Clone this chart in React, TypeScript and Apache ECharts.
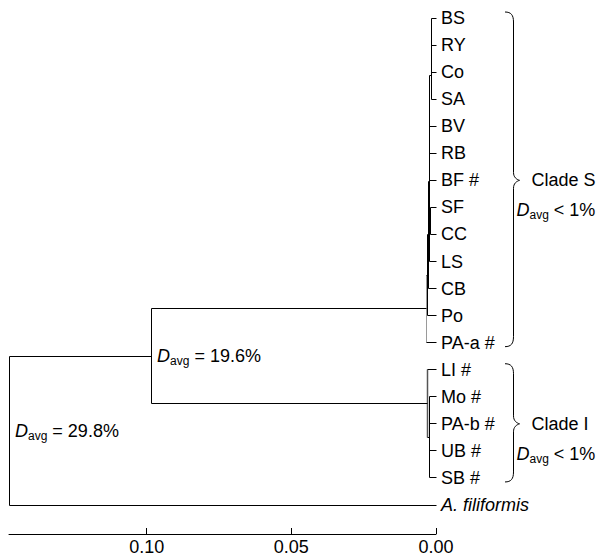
import React, { useEffect, useRef } from 'react';
import * as echarts from 'echarts';

// ---- data ----
const leafNames = ['BS', 'RY', 'Co', 'SA', 'BV', 'RB', 'BF #', 'SF', 'CC', 'LS', 'CB', 'Po', 'PA-a #', 'LI #', 'Mo #', 'PA-b #', 'UB #', 'SB #', 'A. filiformis'];
const nodeNames = ['a1', 'a2', 'a3', 'b1', 'sc', 'b', 'c', 'd', 'S', 'J', 'I', 'N', 'R'];
const nodeHeights = [0.0015, 0.0015, 0.0015, 0.0021, 0.0019, 0.0024, 0.0027, 0.0029, 0.0033, 0.0022, 0.0029, 0.0985, 0.1476];
const nodeChildren = [
  ['BS', 'RY'],
  ['a1', 'Co'],
  ['a2', 'SA'],
  ['a3', 'BV'],
  ['SF', 'CC'],
  ['b1', 'RB', 'BF #', 'sc', 'LS'],
  ['b', 'CB'],
  ['c', 'Po'],
  ['d', 'PA-a #'],
  ['Mo #', 'PA-b #', 'UB #', 'SB #'],
  ['LI #', 'J'],
  ['S', 'I'],
  ['N', 'A. filiformis'],
];
const italicLeaves = ['A. filiformis'];
const davgNodes = ['N', 'R'];
const davgTexts = [' = 19.6%', ' = 29.8%'];
const cladeNames = ['Clade S', 'Clade I'];
const cladeFirst = ['BS', 'LI #'];
const cladeLast = ['PA-a #', 'SB #'];
const cladeDavg = [' < 1%', ' < 1%'];
const axisTickValues = [0, 0.05, 0.1];
const axisMax = 0.1476;

// ---- styles ----
const FONT = "'Liberation Sans', Arial, Helvetica, sans-serif";
const GRAY_NODES = ['S'];
const DARKGRAY_NODES = ['I'];

type Pos = { x: number; y: number };

function layout() {
  const pos: Record<string, Pos> = {};
  leafNames.forEach((n, i) => (pos[n] = { x: 0, y: i }));
  const segs: number[][] = [];
  nodeNames.forEach((n, k) => {
    const h = nodeHeights[k];
    const ch = nodeChildren[k];
    const y1 = pos[ch[0]].y;
    const y2 = pos[ch[ch.length - 1]].y;
    pos[n] = { x: h, y: (y1 + y2) / 2 };
    const col = GRAY_NODES.includes(n) ? 1 : DARKGRAY_NODES.includes(n) ? 2 : 0;
    segs.push([h, y1, h, y2, col]);
    ch.forEach((c) => segs.push([h, pos[c].y, pos[c].x, pos[c].y, 0]));
  });
  return { pos, segs };
}

const snap = (v: number) => Math.round(v - 0.5) + 0.5;

const davgRich = {
  d: { fontFamily: FONT, fontSize: 18, fontStyle: 'italic', color: '#000', lineHeight: 22 },
  s: { fontFamily: FONT, fontSize: 12, color: '#000', lineHeight: 12, verticalAlign: 'bottom' },
  t: { fontFamily: FONT, fontSize: 18, color: '#000', lineHeight: 22 },
};

export default function App() {
  const ref = useRef<HTMLDivElement>(null);
  useEffect(() => {
    if (!ref.current) return;
    const chart = echarts.init(ref.current, undefined, { renderer: 'svg' });
    const { pos, segs } = layout();

    const leafData = leafNames.map((n, i) => ({
      value: [0, i],
      name: n,
      label: italicLeaves.includes(n) ? { fontStyle: 'italic' } : undefined,
    }));
    const davgData = davgNodes.map((n, k) => ({
      value: [pos[n].x, pos[n].y],
      name: davgTexts[k],
    }));
    const cladeData = cladeNames.map((c, k) => [pos[cladeFirst[k]].y, pos[cladeLast[k]].y, k]);

    chart.setOption({
      animation: false,
      grid: { left: 9, right: 164, top: 18, bottom: 54, containLabel: false },
      xAxis: {
        type: 'value',
        inverse: true,
        position: 'bottom',
        min: 0,
        max: axisMax,
        interval: 0.05,
        offset: 29,
        axisLine: { show: true, onZero: false, lineStyle: { color: '#000', width: 1 } },
        axisTick: { show: true, inside: true, length: 6, lineStyle: { color: '#000' }, customValues: axisTickValues },
        axisLabel: {
          show: true,
          customValues: axisTickValues,
          formatter: (v: number) => (axisTickValues.some((t) => Math.abs(t - v) < 1e-9) ? v.toFixed(2) : ''),
          fontFamily: FONT,
          fontSize: 18,
          color: '#000',
          margin: 4,
        },
        splitLine: { show: false },
      },
      yAxis: { type: 'value', inverse: true, min: 0, max: leafNames.length - 1, show: false },
      series: [
        {
          type: 'custom',
          silent: true,
          data: segs,
          encode: { x: [0, 2], y: [1, 3] },
          renderItem: (params: any, api: any) => {
            const p1 = api.coord([api.value(0), api.value(1)]);
            const p2 = api.coord([api.value(2), api.value(3)]);
            const c = api.value(4);
            return {
              type: 'line',
              shape: { x1: snap(p1[0]), y1: snap(p1[1]), x2: snap(p2[0]), y2: snap(p2[1]) },
              style: { stroke: c === 1 ? '#9a9a9a' : c === 2 ? '#555' : '#000', lineWidth: c === 2 ? 1.5 : 1 },
            };
          },
        },
        {
          type: 'scatter',
          silent: true,
          symbolSize: 0,
          itemStyle: { opacity: 1 },
          data: leafData,
          label: {
            show: true,
            position: 'right',
            distance: 5,
            formatter: (p: any) => p.name,
            fontFamily: FONT,
            fontSize: 18,
            color: '#000',
          },
        },
        {
          type: 'scatter',
          silent: true,
          symbolSize: 0,
          itemStyle: { opacity: 1 },
          data: davgData,
          label: {
            show: true,
            position: 'right',
            distance: 6,
            formatter: (p: any) => `{d|D}{s|avg}{t|${p.name}}`,
            rich: davgRich,
          },
        },
        {
          type: 'custom',
          silent: true,
          data: cladeData,
          encode: { y: [0, 1] },
          renderItem: (params: any, api: any) => {
            const top = api.coord([0, api.value(0)]);
            const bot = api.coord([0, api.value(1)]);
            const k = api.value(2);
            const x0 = top[0] + 69;
            const xv = x0 + 8.5;
            const xt = xv + 6;
            const yTop = top[1] - 6;
            const yBot = bot[1] + 4;
            const yTip = (top[1] + bot[1]) / 2;
            const st = { stroke: '#000', lineWidth: 1, fill: 'none' };
            return {
              type: 'group',
              children: [
                { type: 'bezierCurve', shape: { x1: x0, y1: yTop, cpx1: x0 + 6, cpy1: yTop, cpx2: xv, cpy2: yTop + 3, x2: xv, y2: yTop + 10 }, style: st },
                { type: 'line', shape: { x1: xv, y1: yTop + 10, x2: xv, y2: yTip - 8 }, style: st },
                { type: 'bezierCurve', shape: { x1: xv, y1: yTip - 8, cpx1: xv, cpy1: yTip - 3, cpx2: xt - 3, cpy2: yTip - 1, x2: xt, y2: yTip }, style: st },
                { type: 'bezierCurve', shape: { x1: xt, y1: yTip, cpx1: xt - 3, cpy1: yTip + 1, cpx2: xv, cpy2: yTip + 3, x2: xv, y2: yTip + 8 }, style: st },
                { type: 'line', shape: { x1: xv, y1: yTip + 8, x2: xv, y2: yBot - 10 }, style: st },
                { type: 'bezierCurve', shape: { x1: xv, y1: yBot - 10, cpx1: xv, cpy1: yBot - 3, cpx2: x0 + 6, cpy2: yBot, x2: x0, y2: yBot }, style: st },
                {
                  type: 'text',
                  x: xt + 12,
                  y: yTip,
                  style: { text: cladeNames[k], fontFamily: FONT, fontSize: 18, fill: '#000', verticalAlign: 'middle', align: 'left' },
                },
                {
                  type: 'text',
                  x: xv + 3,
                  y: yTip + 30,
                  style: {
                    text: `{d|D}{s|avg}{t|${cladeDavg[k]}}`,
                    rich: davgRich,
                    verticalAlign: 'middle',
                    align: 'left',
                  },
                },
              ],
            };
          },
        },
      ],
    });
    return () => chart.dispose();
  }, []);
  return <div ref={ref} style={{ position: 'absolute', left: 0, top: 0, width: 600, height: 559 }} />;
}
